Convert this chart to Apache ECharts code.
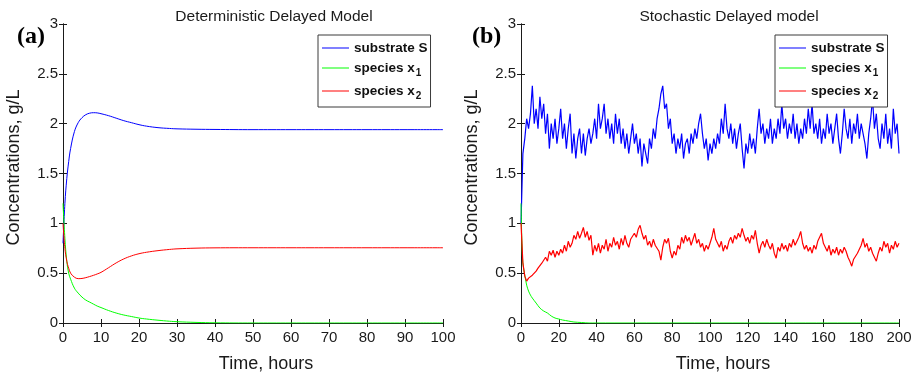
<!DOCTYPE html>
<html>
<head>
<meta charset="utf-8">
<script src="https://cdn.jsdelivr.net/npm/echarts@6/dist/echarts.min.js"></script>
<style>
  html, body { margin: 0; padding: 0; background: #fff; }
  #chart { width: 917px; height: 375px; }
</style>
</head>
<body>
<div id="chart"></div>
<script>
// (a) deterministic delayed model
var detTime = [0, 0.5, 1, 1.5, 2, 3, 4, 5, 6, 7, 8, 9, 10, 12, 14, 16, 18, 20, 22, 25, 28, 30, 35, 40, 50, 60, 70, 80, 90, 100]
var detS = [0.8, 1.2, 1.45, 1.62, 1.75, 1.92, 2.01, 2.06, 2.09, 2.105, 2.11, 2.108, 2.1, 2.08, 2.055, 2.03, 2.01, 1.99, 1.975, 1.96, 1.952, 1.948, 1.944, 1.942, 1.94, 1.94, 1.94, 1.94, 1.94, 1.94]
var detX1 = [1.2, 0.85, 0.62, 0.5, 0.44, 0.35, 0.3, 0.26, 0.23, 0.21, 0.19, 0.17, 0.155, 0.125, 0.1, 0.08, 0.065, 0.05, 0.04, 0.028, 0.018, 0.013, 0.006, 0.002, 0, 0, 0, 0, 0, 0]
var detX2 = [1.0, 0.75, 0.62, 0.55, 0.5, 0.46, 0.445, 0.447, 0.455, 0.466, 0.478, 0.492, 0.508, 0.555, 0.603, 0.643, 0.673, 0.695, 0.71, 0.726, 0.738, 0.744, 0.751, 0.754, 0.755, 0.755, 0.755, 0.755, 0.755, 0.755]

// (b) stochastic delayed model, one value per hour 0..200
var stoS = [
  1.0, 1.7, 1.85, 2.05, 1.95, 2.1, 2.38, 2.0, 2.15, 1.95,
  2.27, 2.05, 2.2, 1.9, 2.1, 1.75, 2.0, 1.85, 2.05, 1.8,
  1.95, 2.15, 1.85, 2.0, 1.75, 1.95, 2.1, 1.7, 1.9, 1.65,
  1.85, 1.95, 1.7, 1.9, 1.68, 1.85, 1.95, 1.8, 1.9, 2.05,
  1.85, 2.2, 1.95, 2.05, 2.2, 1.9, 2.05, 1.85, 2.0, 1.8,
  2.1, 1.9, 2.05, 1.8, 1.95, 1.75, 1.9, 1.7, 1.85, 2.0,
  1.8, 1.9, 1.7, 1.85, 1.57, 1.8, 1.7, 1.6, 1.85, 1.75,
  1.95, 1.85, 2.05, 2.15, 2.3, 2.38, 2.15, 2.2, 1.95, 2.05,
  1.8, 1.9, 1.7, 1.85, 1.75, 1.9, 1.65, 1.8, 1.85, 1.7,
  1.9, 1.8, 1.95, 1.85, 2.0, 2.1, 1.9, 1.75, 1.85, 1.63,
  1.8, 1.7, 1.85, 1.75, 1.9, 1.8, 2.05, 1.9, 2.2, 1.95,
  1.85, 2.0, 1.8, 1.95, 1.75, 1.9, 2.0, 1.75, 1.55, 1.8,
  1.7, 1.9, 1.75, 1.85, 1.7, 1.95, 2.15, 1.9, 2.0, 1.8,
  1.95, 1.85, 2.05, 1.8, 1.95, 1.85, 2.05, 1.9, 2.2, 1.95,
  2.05, 1.85, 2.0, 1.9, 2.1, 1.85, 2.0, 1.8, 1.95, 1.85,
  2.05, 1.9, 2.15, 1.95, 2.2, 1.9, 2.0, 1.85, 2.05, 1.8,
  1.95, 1.85, 2.1, 1.9, 2.0, 1.8, 1.95, 2.1, 1.85, 1.7,
  1.9, 2.15, 1.95, 1.85, 2.05, 1.8, 2.0, 1.9, 2.1, 1.85,
  2.0, 1.9, 1.8, 1.65, 1.9, 2.05, 2.25, 1.95, 2.1, 1.85,
  1.75, 2.0, 1.85, 2.1, 1.8, 1.95, 1.75, 2.15, 1.9, 2.0,
  1.7
]
var stoX2 = [
  1.0, 0.6, 0.47, 0.42, 0.45, 0.43, 0.48, 0.46, 0.52, 0.55,
  0.53, 0.6, 0.58, 0.66, 0.62, 0.72, 0.68, 0.73, 0.66, 0.72,
  0.68, 0.74, 0.7, 0.78, 0.72, 0.82, 0.76, 0.8, 0.88, 0.84,
  0.92, 0.85, 0.9, 0.96, 0.86, 0.92, 0.83, 0.88, 0.68, 0.78,
  0.72, 0.8, 0.7, 0.78, 0.74, 0.84, 0.72, 0.8, 0.76, 0.86,
  0.78, 0.82, 0.74, 0.85, 0.78, 0.88, 0.8, 0.76, 0.84, 0.82,
  0.9, 0.86, 0.94, 0.98, 0.9, 0.84, 0.88, 0.78, 0.82, 0.76,
  0.84, 0.78, 0.8, 0.72, 0.63, 0.76, 0.84, 0.8, 0.85, 0.72,
  0.65, 0.72, 0.68, 0.78, 0.74, 0.86, 0.8, 0.88, 0.82, 0.86,
  0.78, 0.84, 0.9, 0.8, 0.84, 0.76, 0.8, 0.72, 0.78, 0.74,
  0.8, 0.86, 0.95, 0.84, 0.8, 0.76, 0.82, 0.72, 0.78, 0.74,
  0.82, 0.86, 0.8, 0.88, 0.84, 0.9, 0.86, 0.95, 0.88, 0.82,
  0.86, 0.8, 0.88, 0.84, 0.93, 0.8, 0.7, 0.78, 0.82, 0.76,
  0.84, 0.78, 0.74, 0.8, 0.7, 0.65, 0.76, 0.72, 0.8, 0.74,
  0.78, 0.72, 0.8, 0.76, 0.84, 0.78, 0.82, 0.86, 0.92, 0.8,
  0.74, 0.78, 0.72, 0.76, 0.7, 0.78, 0.74, 0.82, 0.86, 0.9,
  0.8, 0.76, 0.72, 0.78, 0.68, 0.74, 0.7, 0.76, 0.68, 0.74,
  0.7, 0.76, 0.72, 0.66, 0.62, 0.57, 0.64, 0.66, 0.7, 0.74,
  0.78, 0.85, 0.76, 0.8, 0.72, 0.76, 0.7, 0.66, 0.62, 0.7,
  0.76, 0.72, 0.82, 0.76, 0.8, 0.7, 0.78, 0.74, 0.82, 0.76,
  0.8
]
var stoX1Time = [0, 0.5, 1, 2, 3, 4, 5, 6, 8, 10, 12, 14, 16, 18, 20, 22, 25, 28, 32, 36, 40, 200]
var stoX1 = [1.2, 0.8, 0.6, 0.48, 0.38, 0.32, 0.28, 0.25, 0.2, 0.15, 0.12, 0.1, 0.07, 0.05, 0.04, 0.03, 0.02, 0.01, 0.005, 0, 0, 0]

var yTicks = ['0', '0.5', '1', '1.5', '2', '2.5', '3']
var names = ['substrate S', 'species x1', 'species x2']
var colors = ['#0000ff', '#00ff00', '#ff0000']

function pairs(xs, ys) {
  var out = []
  for (var i = 0; i < ys.length; i++) out.push([xs[i], ys[i]])
  return out
}
function hourly(ys) {
  var out = []
  for (var i = 0; i < ys.length; i++) out.push([i, ys[i]])
  return out
}

var font = 'Liberation Sans, Arial, sans-serif'
var ink = '#1a1a1a'

function xAx(gi, max, step, top) {
  return {
    type: 'value', gridIndex: gi, min: 0, max: max, interval: step,
    position: top ? 'top' : 'bottom',
    name: top ? '' : 'Time, hours',
    nameLocation: 'middle', nameGap: 32,
    nameTextStyle: { fontFamily: font, fontSize: 18, color: ink, padding: [0, 0, 0, 26] },
    axisLine: { show: true, lineStyle: { color: ink, width: 1 } },
    axisTick: { show: true, inside: true, length: 4, lineStyle: { color: ink } },
    axisLabel: { show: !top, margin: 7, fontFamily: font, fontSize: 15, color: ink },
    splitLine: { show: false }
  }
}
function yAx(gi, right) {
  return {
    type: 'value', gridIndex: gi, min: 0, max: 3, interval: 0.5,
    position: right ? 'right' : 'left',
    name: right ? '' : 'Concentrations, g/L',
    nameLocation: 'middle', nameGap: 40,
    nameTextStyle: { fontFamily: font, fontSize: 18, color: ink, padding: [0, 0, 0, 12] },
    axisLine: { show: true, lineStyle: { color: ink, width: 1 } },
    axisTick: { show: true, inside: true, length: 4, lineStyle: { color: ink } },
    axisLabel: {
      show: !right, margin: 5, fontFamily: font, fontSize: 15, color: ink,
      formatter: function (v) { return yTicks[Math.round(v * 2)] }
    },
    splitLine: { show: false }
  }
}
function line(name, idx, gi, data) {
  return {
    name: name, type: 'line', xAxisIndex: gi * 2, yAxisIndex: gi * 2,
    data: data, symbol: 'none', showSymbol: false, animation: false,
    lineStyle: { color: colors[idx], width: 1 }, itemStyle: { color: colors[idx] }
  }
}
function legend(left) {
  return {
    orient: 'vertical', left: left, top: 35, data: names,
    icon: 'rect',
    backgroundColor: '#fff', borderColor: '#3a3a3a', borderWidth: 1,
    padding: [6, 3, 6, 4], itemWidth: 27, itemHeight: 1, itemGap: 6,
    selectedMode: false,
    formatter: function (n) {
      if (n === 'species x1') return '{b|species x}{s|1}'
      if (n === 'species x2') return '{b|species x}{s|2}'
      return '{b|' + n + '}'
    },
    textStyle: {
      rich: {
        b: { fontFamily: font, fontSize: 13.5, fontWeight: 'bold', color: '#111' },
        s: { fontFamily: font, fontSize: 10, fontWeight: 'bold', color: '#111', padding: [10, 0, 0, 1] }
      }
    }
  }
}

var myChart = echarts.init(document.getElementById('chart'), null, { renderer: 'canvas' })
var option = {
  backgroundColor: '#fff',
  animation: false,
  title: [
    { text: 'Deterministic Delayed Model', left: 269, top: 4, textAlign: 'center',
      textStyle: { fontFamily: font, fontSize: 15.5, fontWeight: 'normal', color: ink } },
    { text: 'Stochastic Delayed model', left: 724, top: 4, textAlign: 'center',
      textStyle: { fontFamily: font, fontSize: 15.5, fontWeight: 'normal', color: ink } },
    { text: '(a)', left: 12, top: 20,
      textStyle: { fontFamily: 'Liberation Serif, serif', fontSize: 24, fontWeight: 'bold', color: '#000' } },
    { text: '(b)', left: 467, top: 20,
      textStyle: { fontFamily: 'Liberation Serif, serif', fontSize: 24, fontWeight: 'bold', color: '#000' } }
  ],
  legend: [legend(318), legend(775)],
  grid: [
    { left: 63, top: 24, width: 380, height: 299, outerBoundsMode: 'none', containLabel: false },
    { left: 521, top: 24, width: 378, height: 299, outerBoundsMode: 'none', containLabel: false }
  ],
  xAxis: [xAx(0, 100, 10, false), xAx(0, 100, 10, true), xAx(1, 200, 20, false), xAx(1, 200, 20, true)],
  yAxis: [yAx(0, false), yAx(0, true), yAx(1, false), yAx(1, true)],
  series: [
    line(names[0], 0, 0, pairs(detTime, detS)),
    line(names[1], 1, 0, pairs(detTime, detX1)),
    line(names[2], 2, 0, pairs(detTime, detX2)),
    line(names[0], 0, 1, hourly(stoS)),
    line(names[1], 1, 1, pairs(stoX1Time, stoX1)),
    line(names[2], 2, 1, hourly(stoX2))
  ]
}
option.series[0].smooth = 0.4
option.series[1].smooth = 0.4
option.series[2].smooth = 0.4
option.series[4].smooth = 0.3
option.series[3].lineStyle.width = 1.2
option.series[5].lineStyle.width = 1.2

myChart.setOption(option)
</script>
</body>
</html>
